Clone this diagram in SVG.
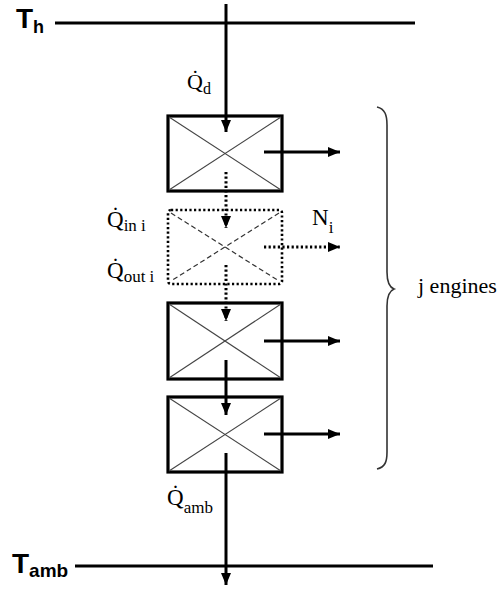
<svg xmlns="http://www.w3.org/2000/svg" width="504" height="589" viewBox="0 0 504 589">
  <defs>
    <style>
      .res { stroke: #000; stroke-width: 3; fill: none; }
      .box { stroke: #000; stroke-width: 3.2; fill: #fff; }
      .dbox { stroke: #000; stroke-width: 2.6; fill: #fff; stroke-dasharray: 2.2 2.4; }
      .diag { stroke: #444; stroke-width: 1.1; fill: none; }
      .ddiag { stroke: #333; stroke-width: 1.2; fill: none; stroke-dasharray: 5 3; }
      .arr { stroke: #000; stroke-width: 3; fill: none; marker-end: url(#ah); }
      .darr { stroke: #000; stroke-width: 3; fill: none; stroke-dasharray: 2.2 2.4; marker-end: url(#ah); }
      .sans { font-family: 'Liberation Sans', Arial, sans-serif; font-weight: bold; fill: #000; }
      .brace { stroke: #333; stroke-width: 1.6; fill: none; }
    </style>
    <marker id="ah" viewBox="0 0 12 10" refX="12" refY="5" markerWidth="12" markerHeight="10" markerUnits="userSpaceOnUse" orient="auto">
      <path d="M0,0 L12,5 L0,10 z" fill="#000"/>
    </marker>
  </defs>
  <rect width="504" height="589" fill="#fff"/>

  <g id="reservoir-hot">
    <line class="res" x1="55" y1="23" x2="415" y2="23"/>
    <text class="sans" x="16" y="28" font-size="28">T<tspan font-size="18" dy="5">h</tspan></text>
  </g>
  <g id="reservoir-amb">
    <line class="res" x1="75" y1="566" x2="433" y2="566"/>
    <text class="sans" x="12" y="573" font-size="28">T<tspan font-size="19" dy="4">amb</tspan></text>
  </g>

  <g id="engine-1">
    <rect class="box" x="168" y="116" width="114" height="75"/>
    <line class="diag" x1="169" y1="117" x2="281" y2="190"/>
    <line class="diag" x1="281" y1="117" x2="169" y2="190"/>
  </g>
  <g id="engine-i">
    <rect class="dbox" x="168" y="210" width="114" height="74" rx="3"/>
    <line class="ddiag" x1="171" y1="213" x2="279" y2="281"/>
    <line class="ddiag" x1="279" y1="213" x2="171" y2="281"/>
  </g>
  <g id="engine-3">
    <rect class="box" x="168" y="303" width="114" height="76"/>
    <line class="diag" x1="169" y1="304" x2="281" y2="378"/>
    <line class="diag" x1="281" y1="304" x2="169" y2="378"/>
  </g>
  <g id="engine-4">
    <rect class="box" x="168" y="397" width="114" height="75"/>
    <line class="diag" x1="169" y1="398" x2="281" y2="471"/>
    <line class="diag" x1="281" y1="398" x2="169" y2="471"/>
  </g>

  <g id="connectors">
    <line class="arr" x1="226" y1="4" x2="226" y2="132"/>
    <line class="darr" x1="226" y1="172" x2="226" y2="228"/>
    <line class="darr" x1="226" y1="265" x2="226" y2="321"/>
    <line class="arr" x1="226" y1="360" x2="226" y2="415"/>
    <line class="arr" x1="226" y1="453" x2="226" y2="585"/>
    <line class="arr" x1="264" y1="152" x2="340" y2="152"/>
    <line class="darr" x1="264" y1="247" x2="340" y2="247"/>
    <line class="arr" x1="264" y1="341" x2="340" y2="341"/>
    <line class="arr" x1="264" y1="434" x2="340" y2="434"/>
  </g>

  <g id="labels" font-family="Liberation Serif, Times New Roman, serif" fill="#000">
    <text x="187" y="89" font-size="22">Q̇<tspan font-size="16" dy="5">d</tspan></text>
    <text x="107" y="227" font-size="23">Q̇<tspan font-size="17" dy="4">in  i</tspan></text>
    <text x="107" y="278" font-size="23">Q̇<tspan font-size="17" dy="4">out i</tspan></text>
    <text x="167" y="505" font-size="23">Q̇<tspan font-size="17" dy="8">amb</tspan></text>
    <text x="312" y="225" font-size="23">N<tspan font-size="17" dy="8">i</tspan></text>
  </g>

  <g id="brace-group">
    <path class="brace" d="M377,107 C385,109 387,115 387,125 L387,272 C387,282 389,287 394,289 C389,291 387,296 387,306 L387,452 C387,462 385,467 377,469"/>
    <text x="418" y="293" font-size="22" font-family="Liberation Serif, Times New Roman, serif" fill="#000">j engines</text>
  </g>
</svg>
